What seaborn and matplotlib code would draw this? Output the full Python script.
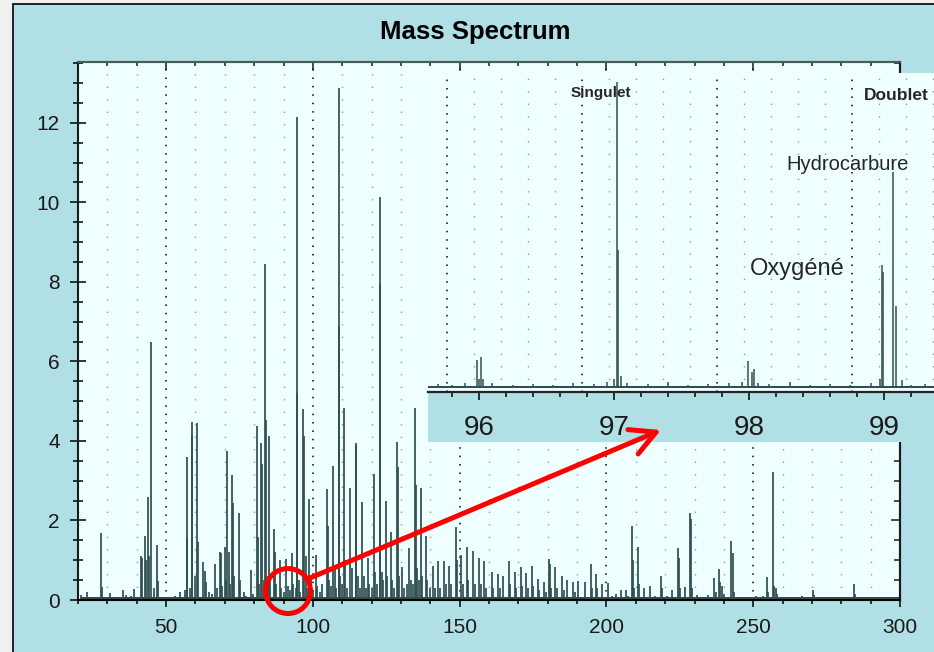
import numpy as np
import matplotlib
matplotlib.use("Agg")
import matplotlib.pyplot as plt
import seaborn as sns
from matplotlib.patches import Rectangle, Circle, FancyArrowPatch, ArrowStyle
from matplotlib.ticker import MultipleLocator

# ---------------------------------
# DATA
# ---------------------------------

# full spectrum: m/z and intensity of each stick
main_mz = [
    20.9, 23.1, 27.9, 28.3, 30.9, 33.0, 35.4, 36.4, 38.0, 39.0,
    41.5, 41.9, 42.8, 43.2, 43.7, 44.15, 44.9, 45.85, 47.0, 47.3,
    51.5, 53.0, 54.8, 56.5, 57.0, 57.2, 58.0, 58.7, 59.0, 60.0,
    60.7, 61.0, 62.6, 63.2, 63.6, 64.5, 65.5, 66.8, 67.2, 68.5,
    68.8, 69.2, 70.0, 70.4, 70.9, 71.3, 71.8, 72.6, 72.9, 73.3,
    74.8, 75.1, 76.5, 77.2, 78.8, 79.5, 80.9, 81.3, 81.8, 82.5,
    82.8, 83.3, 83.8, 84.2, 84.6, 85.1, 85.5, 86.7, 87.2, 87.6,
    88.8, 89.3, 90.2, 91.0, 91.4, 92.1, 92.9, 93.4, 94.3, 94.6,
    94.75, 95.2, 95.6, 96.8, 97.0, 97.5, 98.0, 98.8, 99.2, 100.2,
    101.0, 101.5, 102.3, 103.0, 104.7, 105.1, 105.5, 106.2, 107.0, 107.4,
    108.0, 108.8, 108.9, 109.3, 110.0, 110.7, 111.1, 111.6, 112.8, 113.2,
    114.6, 114.8, 115.3, 116.0, 116.9, 117.3, 118.0, 118.7, 119.2, 120.0,
    120.7, 121.2, 122.0, 122.8, 122.95, 123.4, 124.0, 124.9, 125.4, 126.6,
    127.0, 127.8, 128.6, 129.0, 129.4, 130.5, 131.0, 132.0, 132.8, 133.3,
    134.0, 134.9, 135.05, 135.5, 136.0, 136.9, 137.3, 138.6, 139.0, 140.0,
    141.0, 141.5, 142.7, 143.2, 144.7, 145.2, 146.5, 147.0, 148.9, 149.1,
    150.5, 151.0, 152.5, 153.0, 154.7, 155.2, 156.7, 157.2, 158.4, 159.0,
    160.9, 161.4, 163.1, 163.6, 164.7, 166.7, 167.2, 168.8, 169.3, 170.9,
    171.3, 172.6, 173.2, 174.6, 175.1, 176.7, 177.2, 178.7, 179.5, 180.4,
    180.7, 181.2, 182.5, 183.0, 184.9, 185.4, 186.6, 188.6, 189.2, 190.4,
    192.7, 194.7, 195.1, 196.5, 196.8, 198.6, 200.7, 202.0, 203.2, 204.9,
    206.6, 207.5, 208.7, 209.0, 209.4, 210.6, 211.0, 212.9, 214.9, 216.5,
    218.6, 219.0, 220.5, 222.5, 224.3, 224.6, 225.0, 226.8, 228.5, 228.9,
    229.3, 230.8, 232.5, 234.7, 236.8, 237.3, 238.4, 238.8, 239.5, 240.0,
    242.6, 243.0, 243.5, 246.0, 248.5, 251.0, 253.5, 254.6, 255.0, 256.6,
    257.0, 257.6, 258.2, 261.0, 264.0, 266.5, 270.3, 270.6, 274.0, 278.0,
    281.0, 284.4, 284.7, 288.0, 292.0, 296.0,
]
main_int = [
    0.12, 0.2, 1.68, 0.32, 0.18, 0.08, 0.25, 0.12, 0.1, 0.28,
    1.1, 1.05, 1.6, 1.0, 2.6, 1.1, 6.5, 0.3, 1.38, 0.47,
    0.08, 0.1, 0.2, 0.25, 3.6, 1.55, 0.3, 4.48, 4.15, 0.6,
    4.46, 1.47, 0.95, 0.72, 0.45, 0.2, 0.15, 0.9, 0.3, 1.2,
    1.18, 0.35, 1.33, 0.5, 3.75, 1.2, 0.4, 3.14, 2.45, 0.6,
    2.2, 0.5, 0.2, 0.1, 0.75, 0.15, 4.38, 1.58, 0.4, 3.96,
    3.42, 0.5, 8.44, 4.52, 0.6, 4.13, 0.5, 1.78, 1.2, 0.4,
    1.0, 0.3, 0.2, 1.02, 0.35, 0.25, 1.18, 0.4, 0.3, 12.15,
    5.2, 0.5, 0.2, 4.8, 4.12, 1.1, 0.3, 2.55, 0.5, 0.25,
    1.13, 0.35, 0.2, 0.4, 2.8, 1.85, 0.5, 0.35, 3.36, 0.8,
    0.3, 12.87, 6.88, 0.6, 0.4, 4.82, 1.0, 0.3, 2.82, 0.8,
    3.95, 3.9, 0.6, 0.3, 2.46, 0.6, 0.3, 1.05, 0.4, 0.3,
    3.18, 0.7, 0.4, 10.14, 7.95, 0.7, 0.5, 2.5, 0.6, 1.72,
    0.5, 0.3, 3.98, 3.35, 0.6, 0.82, 0.3, 0.4, 1.32, 0.5,
    0.4, 4.82, 2.9, 0.8, 0.5, 2.82, 0.6, 1.6, 0.5, 0.3,
    0.86, 0.3, 0.97, 0.3, 0.97, 0.4, 0.86, 0.4, 1.84, 1.0,
    1.13, 0.4, 1.34, 0.5, 1.22, 0.4, 1.05, 0.4, 0.97, 0.3,
    0.71, 0.3, 0.65, 0.3, 0.6, 0.97, 0.4, 0.71, 0.3, 0.84,
    0.35, 0.67, 0.3, 0.86, 0.35, 0.54, 0.25, 0.46, 0.2, 1.02,
    0.9, 0.3, 0.82, 0.3, 0.6, 0.25, 0.5, 0.46, 0.2, 0.48,
    0.45, 0.91, 0.3, 0.65, 0.3, 0.4, 0.42, 0.1, 0.15, 0.25,
    0.25, 0.1, 1.87, 1.0, 0.3, 1.33, 0.4, 0.3, 0.35, 0.1,
    0.6, 0.3, 0.1, 0.25, 1.3, 1.05, 0.3, 0.33, 2.2, 2.03,
    0.3, 0.12, 0.08, 0.12, 0.55, 0.2, 0.77, 0.45, 0.35, 0.15,
    1.48, 1.17, 0.2, 0.08, 0.08, 0.1, 0.1, 0.57, 0.2, 3.21,
    0.35, 0.3, 0.15, 0.08, 0.08, 0.1, 0.25, 0.12, 0.08, 0.08,
    0.08, 0.4, 0.15, 0.08, 0.08, 0.08,
]
main_baseline = 0.07

# zoom on m/z 96-99 (relative intensity)
inset_mz = [
    95.70, 95.80, 95.90, 95.985, 96.00, 96.015, 96.03, 96.10, 96.25, 96.40,
    96.55, 96.70, 96.85, 96.95, 97.00, 97.02, 97.03, 97.05, 97.10, 97.25,
    97.40, 97.55, 97.70, 97.85, 97.95, 97.995, 98.02, 98.04, 98.07, 98.15,
    98.30, 98.45, 98.60, 98.75, 98.90, 98.97, 98.985, 98.995, 99.07, 99.085,
    99.13, 99.20, 99.30,
]
inset_int = [
    0.012, 0.01, 0.015, 0.089, 0.03, 0.10, 0.03, 0.015, 0.01, 0.012,
    0.01, 0.015, 0.012, 0.02, 0.03, 0.97, 0.44, 0.04, 0.015, 0.012,
    0.02, 0.01, 0.012, 0.015, 0.02, 0.087, 0.05, 0.061, 0.015, 0.012,
    0.02, 0.01, 0.012, 0.01, 0.015, 0.03, 0.39, 0.37, 0.685, 0.26,
    0.025, 0.01, 0.012,
]
inset_baseline = 0.006

main_ticks = [50, 100, 150, 200, 250, 300]
inset_ticks = [96, 97, 98, 99]

# ---------------------------------
# STYLE
# ---------------------------------

sns.set_theme(style="ticks")
plt.rcParams["font.family"] = ["Liberation Sans", "DejaVu Sans"]

BG = "#b0dfe5"
PLOT_BG = "#f0ffff"
INK = "#2f4f4f"
W, H = 934, 652

fig = plt.figure(figsize=(W / 100, H / 100), dpi=100)
fig.patch.set_facecolor("#f0f0f0")
fig.add_artist(Rectangle((0.125, -0.1), 9.5, 6.58, transform=fig.dpi_scale_trans,
                         facecolor=BG, edgecolor="black", lw=1.2, zorder=-1))

fig.text(475 / W, 1 - 32 / H, "Mass Spectrum", ha="center", va="center",
         fontsize=18.5, fontweight="bold", color="black")

# ---------------------------------
# MAIN SPECTRUM
# ---------------------------------

ax = fig.add_axes([78 / W, 52 / H, 822 / W, 538 / H])
ax.set_facecolor(PLOT_BG)
ax.set_axisbelow(True)

ax.vlines(main_mz, 0, main_int, color=INK, lw=1.25)
ax.fill_between([21, 300], 0, main_baseline, color=INK, lw=0)

ax.set_xlim(20, 300)
ax.set_ylim(0, 13.53)
ax.set_xticks(main_ticks)
ax.xaxis.set_minor_locator(MultipleLocator(10))
ax.yaxis.set_major_locator(MultipleLocator(2))
ax.yaxis.set_minor_locator(MultipleLocator(0.5))

ax.tick_params(axis="x", which="major", direction="out", length=5, width=1.1,
               labelsize=15, pad=8, color="black", labelcolor="#1a1a1a")
ax.tick_params(axis="x", which="minor", direction="out", length=3, width=1.1, color="black")
ax.tick_params(axis="y", which="major", direction="inout", length=12, width=1.1,
               labelsize=15, pad=7, color="black", labelcolor="#1a1a1a")
ax.tick_params(axis="y", which="minor", direction="inout", length=6.5, width=1.1, color="black")

ax.xaxis.grid(True, which="major", color="black", linestyle=(0, (1, 4.5)), lw=1.1)
ax.xaxis.grid(True, which="minor", color="#8c9c9c", linestyle=(0, (1, 8)), lw=1.0)
ax.yaxis.grid(False)

for side in ["left", "bottom", "top", "right"]:
    ax.spines[side].set_visible(True)
    ax.spines[side].set_linewidth(1.5)
ax.spines["left"].set_color("#1a1a1a")
ax.spines["bottom"].set_color("black")
ax.spines["top"].set_color("#4a5a5a")
ax.spines["right"].set_color("#1a1a1a")

top = ax.secondary_xaxis("top")
top.set_xticks(main_ticks)
top.xaxis.set_minor_locator(MultipleLocator(10))
top.tick_params(which="major", direction="in", length=5.8, width=1.1, labeltop=False, color="#1a1a1a")
top.tick_params(which="minor", direction="in", length=3, width=1.1, color="#1a1a1a")
top.spines["top"].set_color("#4a5a5a")
top.spines["top"].set_linewidth(1.5)

right = ax.secondary_yaxis("right")
right.yaxis.set_major_locator(MultipleLocator(2))
right.yaxis.set_minor_locator(MultipleLocator(0.5))
right.tick_params(which="major", direction="in", length=6.5, width=1.1, labelright=False, color="#1a1a1a")
right.tick_params(which="minor", direction="in", length=4.3, width=1.1, color="#1a1a1a")
right.spines["right"].set_linewidth(1.5)

# ---------------------------------
# INSET (zoom 96-99)
# ---------------------------------

fig.add_artist(Rectangle((4.28, 2.10), 5.2, 0.50, transform=fig.dpi_scale_trans,
                         facecolor=BG, edgecolor="none", zorder=1))

ins = fig.add_axes([428 / W, (H - 392) / H, 506 / W, 319 / H], zorder=2)
ins.set_facecolor(PLOT_BG)
ins.set_axisbelow(True)

for g in np.arange(95.76, 99.4, 0.2):
    dense = abs(((g - 95.76) + 0.5) % 1.0 - 0.5) < 1e-6
    ins.axvline(g, color="black" if dense else "#8c9c9c",
                linestyle=(0, (1, 4.5)) if dense else (0, (1, 8)),
                lw=1.1 if dense else 1.0, zorder=0)

ins.vlines(inset_mz, 0, inset_int, color=INK, lw=1.1)
ins.fill_between([95.62, 99.37], 0, inset_baseline, color=INK, lw=0)

ins.set_xlim(95.623, 99.37)
ins.set_ylim(-0.012, 1.0)
ins.set_yticks([])
ins.set_xticks(inset_ticks)
ins.xaxis.set_minor_locator(MultipleLocator(0.2))
ins.tick_params(axis="x", which="major", direction="out", length=5.8, width=1.1,
                labelsize=20, pad=11, color="black", labelcolor="#1a1a1a")
ins.tick_params(axis="x", which="minor", direction="out", length=3.6, width=1.1, color="black")
ins.grid(False)
for side in ["left", "top", "right"]:
    ins.spines[side].set_visible(False)
ins.spines["bottom"].set_linewidth(1.6)
ins.spines["bottom"].set_color("#222222")

ins.text(96.90, 0.937, "Singulet", ha="center", va="center", fontsize=11, fontweight="bold")
ins.text(99.09, 0.93, "Doublet", ha="center", va="center", fontsize=12.5, fontweight="bold")
ins.text(98.73, 0.711, "Hydrocarbure", ha="center", va="center", fontsize=14.5)
ins.text(98.36, 0.378, "Oxygéné", ha="center", va="center", fontsize=17)

# ---------------------------------
# RED CIRCLE + ARROW
# ---------------------------------

fig.add_artist(Circle((2.88, 0.61), 0.225, transform=fig.dpi_scale_trans,
                      fill=False, edgecolor="#ff0000", lw=3.6, zorder=5))
fig.add_artist(FancyArrowPatch(posA=(3.10, 0.74), posB=(6.61, 2.22),
                               transform=fig.dpi_scale_trans,
                               arrowstyle=ArrowStyle("->", head_length=18, head_width=9.5),
                               mutation_scale=1, color="#ff0000", lw=3.6,
                               capstyle="round", joinstyle="round",
                               shrinkA=0, shrinkB=0, zorder=5))

fig.savefig("out.png", dpi=100, facecolor=fig.get_facecolor())
